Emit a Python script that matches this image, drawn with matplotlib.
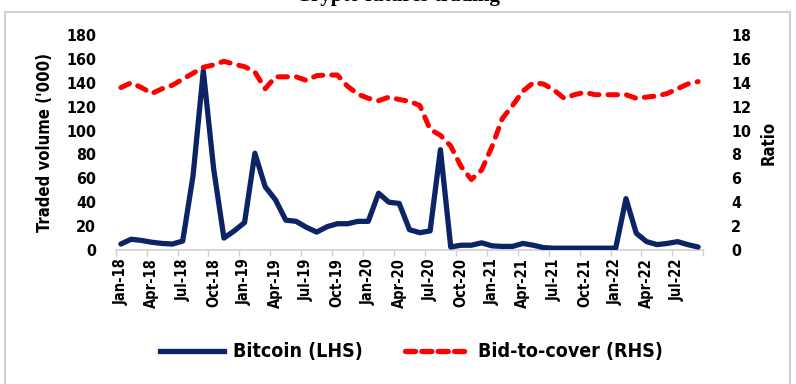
import matplotlib
matplotlib.use("Agg")
import matplotlib.pyplot as plt
from matplotlib.lines import Line2D
from matplotlib.patches import Rectangle
import numpy as np

# ---- data ----
month_names = ["Jan", "Feb", "Mar", "Apr", "May", "Jun", "Jul", "Aug", "Sep", "Oct", "Nov", "Dec"]
months = [f"{month_names[i % 12]}-{18 + i // 12}" for i in range(57)]  # Jan-18 .. Sep-22

bitcoin = [5, 9, 8, 6.5, 5.5, 5, 7.5, 62, 150, 68, 10, 16, 23, 81,
           53, 42, 25, 24, 19, 15, 19.5, 22, 22, 24, 24, 47.5, 40, 39,
           17, 14.5, 16, 84, 2.5, 4, 4, 6, 3.5, 3, 3, 5.5, 4, 2,
           1.5, 1.5, 1.5, 1.5, 1.5, 1.5, 1.5, 43, 14, 7, 4.5, 5.5, 7, 4.5, 2.5]

bid_to_cover = [13.6, 14.0, 13.6, 13.1, 13.5, 13.8, 14.3, 14.8, 15.3, 15.5, 15.8, 15.55, 15.35, 14.9,
                13.5, 14.5, 14.5, 14.5, 14.2, 14.6, 14.65, 14.65, 13.7, 13.05, 12.7, 12.5, 12.8, 12.6,
                12.45, 12.1, 10.1, 9.6, 8.7, 7.0, 5.9, 6.7, 8.65, 11.0, 12.1, 13.3, 14.0, 13.9,
                13.4, 12.7, 13.0, 13.2, 13.0, 13.0, 13.0, 13.0, 12.7, 12.8, 12.9, 13.1, 13.5, 13.9, 14.1]

left_ticks = list(range(0, 181, 20))
right_ticks = list(range(0, 19, 2))
label_step = 3

BLUE = "#0c2466"
RED = "#ff0000"
GRAY = "#d0d0d0"

FONT = dict(family="DejaVu Sans", stretch="condensed", weight="bold")

fig = plt.figure(figsize=(7.96, 3.84), dpi=100)
fig.patch.set_facecolor("white")

# outer frame
fig.patches.append(Rectangle((5 / 796, -0.05), 785 / 796, 1.05 - 12 / 384,
                             transform=fig.transFigure, fill=False,
                             edgecolor=GRAY, linewidth=1.5))

# title, clipped at the top edge as in the reference
fig.text(0.50, 1.0 - 1.5 / 384, "Crypto futures trading", ha="center", va="baseline",
         family="Liberation Serif", weight="bold", fontsize=15, color="black")

ax = fig.add_axes([115.7 / 796, 1 - 250 / 384, (703.3 - 115.7) / 796, (250 - 35) / 384])
ax2 = ax.twinx()

x = np.arange(len(months))
ax.plot(x, bitcoin, color=BLUE, lw=3.8, solid_capstyle="round", solid_joinstyle="round",
        zorder=3)
ax2.plot(x, bid_to_cover, color=RED, lw=3.6, linestyle=(0, (1.9, 1.8)),
         dash_capstyle="round", zorder=3)

ax.set_xlim(-0.5, len(months) - 0.5)
ax.set_ylim(0, 180)
ax2.set_ylim(0, 18)

ax.set_yticks(left_ticks)
ax.set_yticklabels([str(v) for v in left_ticks], fontsize=11.5, **FONT)
ax2.set_yticks(right_ticks)
ax2.set_yticklabels([str(v) for v in right_ticks], fontsize=11.5, **FONT)
ax.tick_params(axis="y", length=0, pad=14)
ax2.tick_params(axis="y", length=0, pad=20)

label_pos = x[::label_step]
ax.set_xticks(label_pos)
ax.set_xticklabels([months[i] for i in label_pos], rotation=90, fontsize=10.5, **FONT)
ax.tick_params(axis="x", which="major", length=0, pad=6)
ax.set_xticks(np.arange(-0.5, len(months), label_step), minor=True)
ax.tick_params(axis="x", which="minor", length=4, width=1, color=GRAY, direction="out")

for a in (ax, ax2):
    for s in ("top", "left", "right"):
        a.spines[s].set_visible(False)
ax2.spines["bottom"].set_visible(False)
ax.spines["bottom"].set_color(GRAY)
ax.spines["bottom"].set_linewidth(1.2)

ax.set_ylabel("Traded volume ('000)", fontsize=12, labelpad=9, **FONT)
ax2.set_ylabel("Ratio", fontsize=12, labelpad=6, **FONT)

handles = [Line2D([], [], color=BLUE, lw=3.8),
           Line2D([], [], color=RED, lw=3.8, linestyle=(0, (1.9, 1.2)), dash_capstyle="round")]
fig.legend(handles, ["Bitcoin (LHS)", "Bid-to-cover (RHS)"], loc="center",
           bbox_to_anchor=(0.517, 1 - 352 / 384), ncol=2, frameon=False,
           handlelength=3.3, handletextpad=0.45, columnspacing=2.2,
           prop=dict(size=14, **FONT))

fig.savefig("out.png", dpi=100, facecolor="white")
